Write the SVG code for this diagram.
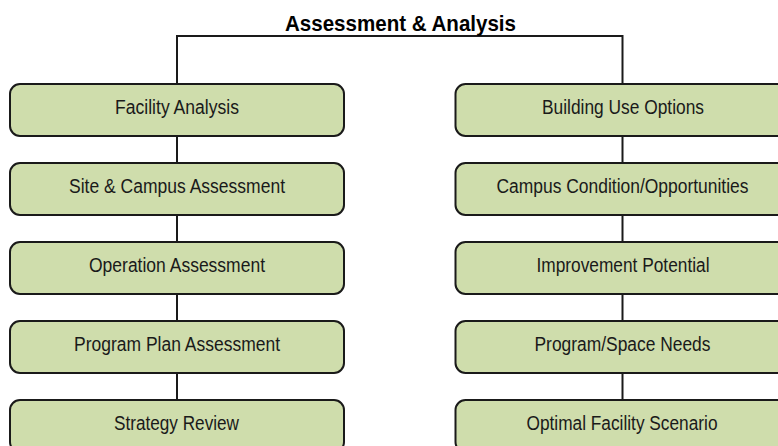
<svg xmlns="http://www.w3.org/2000/svg" width="778" height="446" viewBox="0 0 778 446">
<style>
.box{fill:#CFDDAC;stroke:#1a1a1a;stroke-width:2}
.lbl{font-family:"Liberation Sans Narrow","Arial Narrow","Liberation Sans",Arial,sans-serif;font-size:19.5px;fill:#1a1a1a;text-anchor:middle}
.ttl{font-family:"Liberation Sans Narrow","Arial Narrow","Liberation Sans",Arial,sans-serif;font-size:22px;font-weight:bold;fill:#000;text-anchor:middle}
.con{fill:none;stroke:#1a1a1a;stroke-width:2}
</style>
<rect width="778" height="446" fill="#fff"/>
<g id="connectors">
<path class="con" d="M177,84 V36 H622.5 V84"/>
<path class="con" d="M177,136 V163 M177,215 V242 M177,294 V321 M177,373 V400"/>
<path class="con" d="M622.5,136 V163 M622.5,215 V242 M622.5,294 V321 M622.5,373 V400"/>
</g>
<g id="title"><text class="ttl" x="400.5" y="31" textLength="231" lengthAdjust="spacingAndGlyphs">Assessment &amp; Analysis</text></g>
<g id="facility-analysis"><rect class="box" x="10" y="84" width="334" height="52" rx="10"/><text class="lbl" x="177" y="113.5" textLength="124" lengthAdjust="spacingAndGlyphs">Facility Analysis</text></g>
<g id="site-campus"><rect class="box" x="10" y="163" width="334" height="52" rx="10"/><text class="lbl" x="177" y="193" textLength="216" lengthAdjust="spacingAndGlyphs">Site &amp; Campus Assessment</text></g>
<g id="operation"><rect class="box" x="10" y="242" width="334" height="52" rx="10"/><text class="lbl" x="177" y="272" textLength="176" lengthAdjust="spacingAndGlyphs">Operation Assessment</text></g>
<g id="program-plan"><rect class="box" x="10" y="321" width="334" height="52" rx="10"/><text class="lbl" x="177" y="351" textLength="206" lengthAdjust="spacingAndGlyphs">Program Plan Assessment</text></g>
<g id="strategy"><rect class="box" x="10" y="400" width="334" height="52" rx="10"/><text class="lbl" x="176.5" y="430" textLength="125" lengthAdjust="spacingAndGlyphs">Strategy Review</text></g>
<g id="building-use"><rect class="box" x="455.5" y="84" width="334" height="52" rx="10"/><text class="lbl" x="623" y="113.5" textLength="162" lengthAdjust="spacingAndGlyphs">Building Use Options</text></g>
<g id="campus-condition"><rect class="box" x="455.5" y="163" width="334" height="52" rx="10"/><text class="lbl" x="622.5" y="193" textLength="252" lengthAdjust="spacingAndGlyphs">Campus Condition/Opportunities</text></g>
<g id="improvement"><rect class="box" x="455.5" y="242" width="334" height="52" rx="10"/><text class="lbl" x="623" y="272" textLength="173" lengthAdjust="spacingAndGlyphs">Improvement Potential</text></g>
<g id="program-space"><rect class="box" x="455.5" y="321" width="334" height="52" rx="10"/><text class="lbl" x="622.5" y="351" textLength="176" lengthAdjust="spacingAndGlyphs">Program/Space Needs</text></g>
<g id="optimal"><rect class="box" x="455.5" y="400" width="334" height="52" rx="10"/><text class="lbl" x="622" y="430" textLength="191" lengthAdjust="spacingAndGlyphs">Optimal Facility Scenario</text></g>
</svg>
